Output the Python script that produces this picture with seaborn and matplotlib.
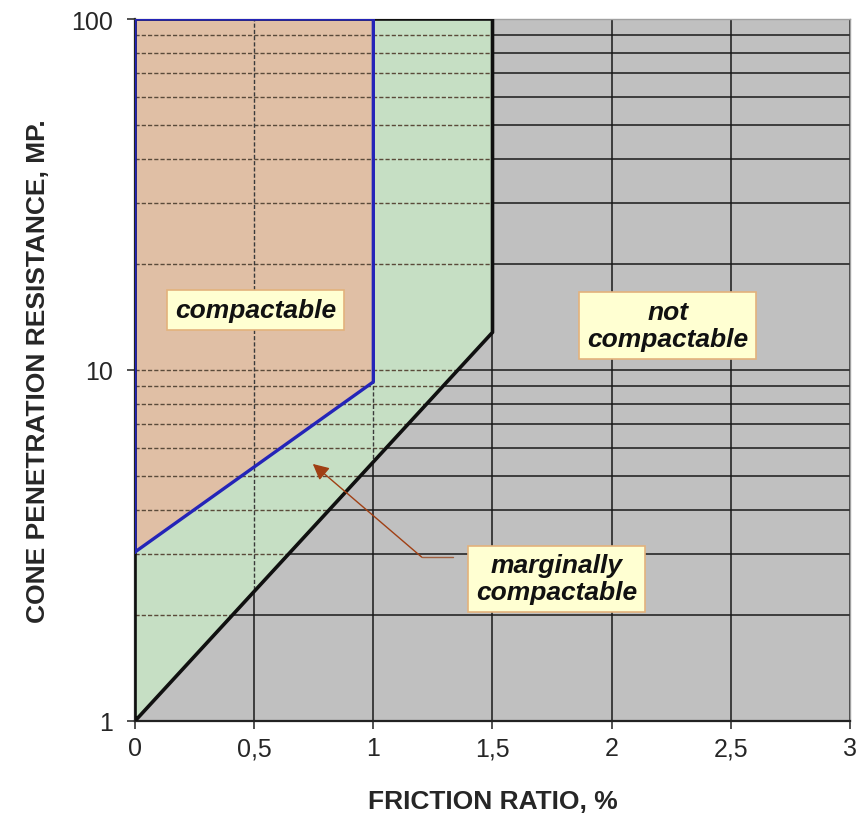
import matplotlib
matplotlib.use("Agg")
import matplotlib.pyplot as plt
import matplotlib.patches as mpatches
from matplotlib.ticker import LogLocator, FixedLocator, FuncFormatter, NullFormatter
import seaborn as sns
import pandas as pd

# ---- data ----
marg_x = [0.0, 1.5, 1.5, 0.0]          # marginally compactable zone (outer boundary)
marg_y = [1.0, 12.8, 100.0, 100.0]
comp_x = [0.0, 1.0, 1.0, 0.0]          # compactable zone
comp_y = [3.03, 9.25, 100.0, 100.0]
x_ticks = [0, 0.5, 1, 1.5, 2, 2.5, 3]
x_tick_labels = ["0", "0,5", "1", "1,5", "2", "2,5", "3"]
y_ticks = [1, 10, 100]
labels = ["compactable", "not\ncompactable", "marginally\ncompactable"]
label_x = [0.507, 2.235, 1.77]
label_y = [14.8, 13.4, 2.54]
arrow_tip = (0.746, 5.4)
arrow_elbow = (1.203, 2.93)
arrow_start = (1.333, 2.93)

sns.set_theme(style="white")
plt.rcParams['font.family'] = ['Liberation Sans', 'DejaVu Sans']

fig = plt.figure(figsize=(8.62, 8.20), dpi=100)
ax = fig.add_axes([135/862, 98/820, 715/862, 702/820])
ax.set_facecolor("#c0c0c0")
ax.set_xlim(0, 3)
ax.set_yscale("log")
ax.set_ylim(1, 100)

# solid gridlines (visible in gray area)
ax.xaxis.set_major_locator(FixedLocator(x_ticks))
ax.yaxis.set_major_locator(FixedLocator(y_ticks))
ax.yaxis.set_minor_locator(LogLocator(base=10, subs=range(2, 10)))
ax.yaxis.set_minor_formatter(NullFormatter())
ax.set_axisbelow(True)
ax.grid(True, which="both", axis="both", color="#1a1a1a", lw=1.1)

# zones
green = mpatches.Polygon(list(zip(marg_x, marg_y)), closed=True, facecolor="#c6dfc4",
                         edgecolor="none", zorder=1)
tan = mpatches.Polygon(list(zip(comp_x, comp_y)), closed=True, facecolor="#e0bfa5",
                       edgecolor="none", zorder=1.1)
ax.add_patch(green)
ax.add_patch(tan)

# dashed gridlines inside coloured zones
clip = mpatches.Polygon(list(zip(marg_x, marg_y)), closed=True, transform=ax.transData)
yminor = [v for v in ax.yaxis.get_minorticklocs() if 1 < v < 100] + [10]
for v in yminor:
    ln = ax.axhline(v, color="#5a4a3a", lw=1.0, ls=(0, (3, 1.5)), zorder=1.5)
    ln.set_clip_path(clip)
for v in x_ticks[1:-1]:
    ln = ax.axvline(v, color="#3a3a3a", lw=1.0, ls=(0, (3, 1.5)), zorder=1.5)
    ln.set_clip_path(clip)

# boundaries
df_m = pd.DataFrame({"x": marg_x + [marg_x[0]], "y": marg_y + [marg_y[0]]})
df_c = pd.DataFrame({"x": comp_x + [comp_x[0]], "y": comp_y + [comp_y[0]]})
sns.lineplot(data=df_m, x="x", y="y", sort=False, estimator=None, color="#101010",
             lw=2.6, ax=ax, zorder=3)
sns.lineplot(data=df_c, x="x", y="y", sort=False, estimator=None, color="#2424b8",
             lw=2.4, ax=ax, zorder=3.5)

# labels
for t, lx, ly in zip(labels, label_x, label_y):
    ax.text(lx, ly, t, ha="center", va="center", fontsize=19, fontweight="bold",
            fontstyle="italic", color="#111111", linespacing=1.15, zorder=5,
            bbox=dict(boxstyle="square,pad=0.3", facecolor="#ffffd2",
                      edgecolor="#e3b27c", lw=1.2))

# arrow
ax.plot([arrow_start[0], arrow_elbow[0]], [arrow_start[1], arrow_elbow[1]],
        color="#a06040", lw=1.0, zorder=4)
ax.annotate("", xy=arrow_tip, xytext=arrow_elbow,
            arrowprops=dict(arrowstyle="-|>,head_length=0.8,head_width=0.4",
                            color="#a04014", lw=1.0, shrinkA=0, shrinkB=0), zorder=4)

# axes styling
ax.set_xticks(x_ticks)
ax.set_xticklabels(x_tick_labels)
ax.yaxis.set_major_formatter(FuncFormatter(lambda v, p: f"{v:g}"))
ax.tick_params(axis="both", which="major", labelsize=18, length=6, width=1.2,
               color="#333333", direction="out", bottom=True, left=True, pad=5)
ax.tick_params(axis="y", which="major", pad=10)
ax.tick_params(axis="y", which="minor", length=0)
for s in ["top", "right"]:
    ax.spines[s].set_color("#a0a0a0")
    ax.spines[s].set_linewidth(1.0)
for s in ["left", "bottom"]:
    ax.spines[s].set_color("#222222")
    ax.spines[s].set_linewidth(1.6)

ax.set_xlabel("FRICTION RATIO, %", fontsize=19, fontweight="bold", labelpad=21)
ax.set_ylabel("CONE PENETRATION RESISTANCE, MP.", fontsize=19, fontweight="bold",
              labelpad=15)

fig.savefig("out.png", dpi=100)
